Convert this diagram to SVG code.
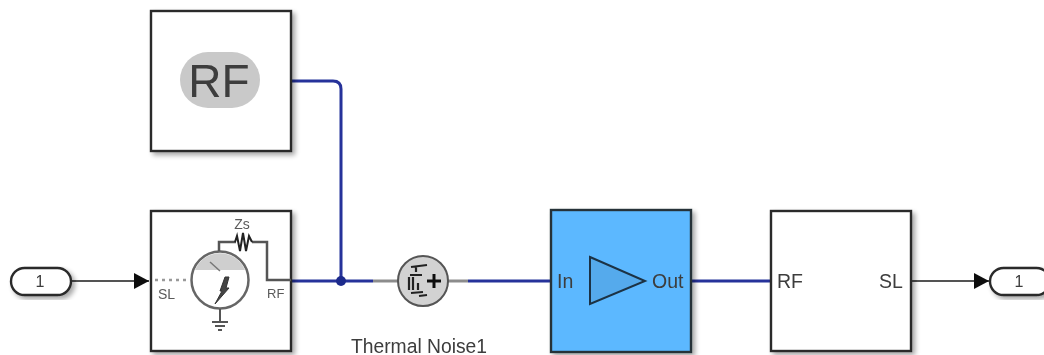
<svg xmlns="http://www.w3.org/2000/svg" width="1044" height="355" viewBox="0 0 1044 355">
<style>
text{font-family:"Liberation Sans",Arial,sans-serif;fill:#3c3c3c}
.blk{stroke:#2b2b2b;stroke-width:2.4;fill:#fff}
.rf{fill:none;stroke:#27339a;stroke-width:3;stroke-linejoin:round}
.gr{fill:none;stroke:#8c8c8c;stroke-width:3}
.sig{fill:none;stroke:#1a1a1a;stroke-width:1.6}
.k{fill:none;stroke:#222;stroke-width:2.2}
.lab{font-size:19.5px}
.small{fill:#5a5a5a}
</style>
<defs>
<filter id="sh" x="-15%" y="-15%" width="130%" height="130%"><feGaussianBlur in="SourceAlpha" stdDeviation="2.5"/><feOffset dx="3" dy="3"/><feComponentTransfer><feFuncA type="linear" slope="0.35"/></feComponentTransfer><feMerge><feMergeNode/><feMergeNode in="SourceGraphic"/></feMerge></filter>
<filter id="b" x="-5%" y="-5%" width="110%" height="110%"><feGaussianBlur stdDeviation="0.6"/></filter>
<marker id="ah" markerUnits="userSpaceOnUse" markerWidth="16" markerHeight="16" refX="15" refY="8" orient="auto"><path d="M0 0L15 8L0 16Z" fill="#111"/></marker>
</defs>
<g filter="url(#b)">
<g id="connectors">
<path class="rf" d="M291 81H333Q341 81 341 89V281"/>
<path class="rf" d="M291 281H373"/>
<circle cx="341" cy="281" r="5" fill="#1c2a8c"/>
<path class="gr" d="M373 281H398"/>
<path class="gr" d="M448 281H468"/>
<path class="rf" d="M468 281H551"/>
<path class="rf" d="M691 281H771"/>
<path class="sig" d="M71 281H149" marker-end="url(#ah)"/>
<path class="sig" d="M911 281H989" marker-end="url(#ah)"/>
</g>
<g id="inport">
<rect x="11" y="268" width="60" height="27" rx="13.500" class="blk" filter="url(#sh)"/>
<text x="40" y="287" font-size="16" text-anchor="middle">1</text>
</g>
<g id="rf-config">
<rect x="151" y="11" width="140" height="140" class="blk" filter="url(#sh)"/>
<rect x="180" y="52" width="80" height="56" rx="28" fill="#c9c9c9"/>
<text x="219" y="97" font-size="46" text-anchor="middle" fill="#484848">RF</text>
</g>
<g id="source">
<rect x="151" y="211" width="140" height="140" class="blk" filter="url(#sh)"/>
<path d="M155 280H190" fill="none" stroke="#999" stroke-width="2.500" stroke-dasharray="3 4"/>
<circle cx="220" cy="280" r="28.500" fill="#fff" stroke="#666" stroke-width="2.500"/>
<path d="M195 270A27 27 0 0 1 245 270Z" fill="#cfcfcf"/>
<path d="M210 262L220 271" stroke="#777" stroke-width="1.500" fill="none"/>
<path d="M219 251V242H236M252 242H267V280H291" fill="none" stroke="#555" stroke-width="2.500"/>
<path d="M235 242l2-6l3 15l3-18l3 18l3-15l3 6" fill="none" stroke="#222" stroke-width="2"/>
<path d="M220 309V322M212 322H228M215 326H225M218 330H222" fill="none" stroke="#555" stroke-width="2"/>
<path d="M215 304L222 291L220 291L225 277H229L226 288L229 288Z" fill="#444" stroke="#333" stroke-width="1"/>
<text x="242" y="229" font-size="14" text-anchor="middle" class="small">Zs</text>
<text x="158" y="299" font-size="14" class="small">SL</text>
<text x="267" y="298" font-size="13" class="small">RF</text>
</g>
<g id="thermal-noise">
<circle cx="423" cy="281" r="25" fill="#d2d2d2" stroke="#555" stroke-width="2"/>
<path class="k" d="M411 267L427 265M416 267V272M410 275H422M409 277V290M413 277V290M418 283V290M411 293L423 292M419 296L427 295"/>
<path d="M427 281H441M434 274V288" stroke="#111" stroke-width="3" fill="none"/>
<text x="419" y="353" font-size="19.300" text-anchor="middle">Thermal Noise1</text>
</g>
<g id="amplifier">
<rect x="551" y="210" width="140" height="142" fill="#5cb8ff" stroke="#263238" stroke-width="2.400" filter="url(#sh)"/>
<path d="M590 257L645 281L590 304Z" fill="#54aaec" stroke="#1d3344" stroke-width="2"/>
<text x="557" y="288" class="lab">In</text>
<text x="652" y="288" class="lab">Out</text>
</g>
<g id="rf-out">
<rect x="771" y="211" width="140" height="140" class="blk" filter="url(#sh)"/>
<text x="777" y="288" class="lab">RF</text>
<text x="879" y="288" class="lab">SL</text>
</g>
<g id="outport">
<rect x="990" y="268" width="60" height="27" rx="13.500" class="blk" filter="url(#sh)"/>
<text x="1019" y="287" font-size="16" text-anchor="middle">1</text>
</g>
</g>
</svg>
